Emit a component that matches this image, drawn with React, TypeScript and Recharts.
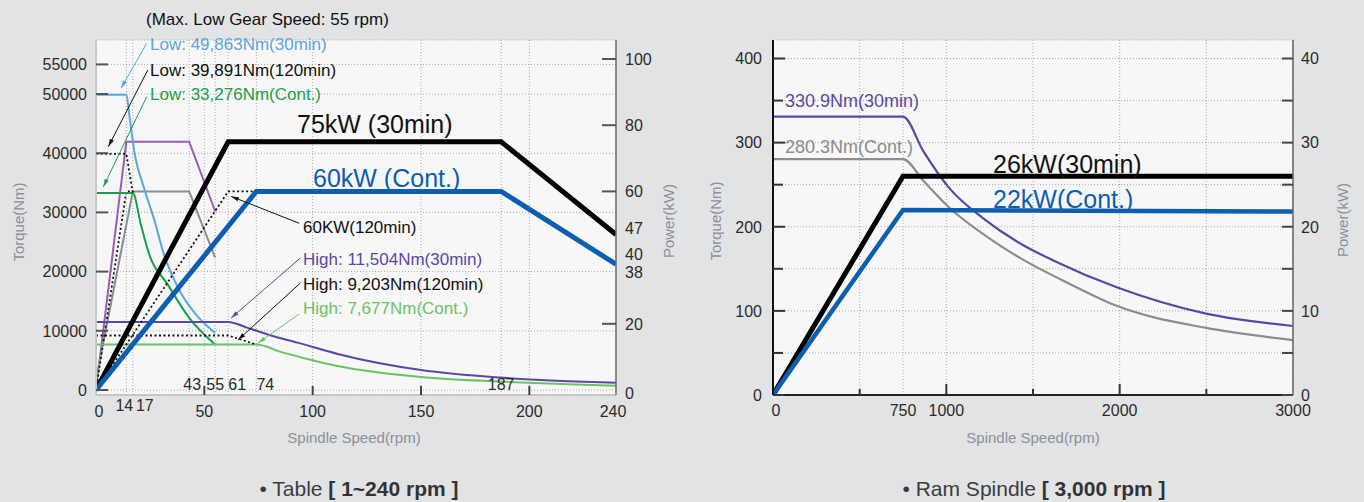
import React from 'react'
import { CartesianGrid, ComposedChart, Line, ReferenceLine, XAxis, YAxis } from 'recharts'

const FONT = '"Liberation Sans", Arial, Helvetica, sans-serif'

// Table chart (left) — [rpm, Nm] / [rpm, kW]
const tableLow30Nm = [[0, 49863], [14, 49863], [15.7, 45500], [17.9, 39800], [22.1, 34200], [27.1, 28500], [31, 23300], [39.2, 16400], [47, 12400], [55, 9650]]
const tableLow120Nm = [[0, 39891], [14, 39891], [17, 33276]]
const tableLowContNm = [[0, 33276], [17, 33276], [20.7, 27950], [24.2, 23300], [33.2, 17760], [43, 12200], [55, 7677]]
const tableHigh30Nm = [[0, 11504], [61, 11504], [70, 10500], [80, 9300], [93, 8000], [112, 6050], [150, 3380], [186, 2110], [218, 1490], [240, 1230]]
const tableHigh120Nm = [[0, 9203], [61, 9203], [74, 7677]]
const tableHighContNm = [[0, 7677], [74, 7677], [86, 6350], [98, 5200], [112, 4000], [150, 2200], [186, 1430], [218, 970], [240, 720]]
const tableLow30kW = [[0, 0], [14, 75], [43, 75], [55, 54]]
const tableLowContkW = [[0, 3], [17, 60], [43, 60], [55, 40]]
const tableLow120kW = [[0, 0], [14, 60], [17, 60]]
const table120kW = [[0, 0], [61, 60], [74, 60]]
const table30kW = [[0, 0], [61, 75], [187, 75], [240, 47]]
const tableContkW = [[0, 0], [74, 60], [187, 60], [240, 38]]

const tableSpeedTicks = [0, 14, 17, 43, 50, 55, 61, 74, 100, 150, 187, 200, 240]
const tableTorqueTicks = [0, 10000, 20000, 30000, 40000, 50000, 55000]
const tablePowerTicks = [0, 20, 38, 40, 47, 60, 80, 100]

// Ram spindle chart (right)
const ram30Nm = [[0, 330.9], [750, 330.9], [867, 290], [1021, 245], [1213, 210], [1444, 178], [1617, 160], [1983, 128], [2492, 97], [3000, 82]]
const ramContNm = [[0, 280.3], [750, 280.3], [870, 254], [1021, 222], [1250, 186], [1450, 160], [1713, 132], [1983, 106], [2492, 80], [3000, 65.3]]
const ram30kW = [[0, 0], [750, 26], [3000, 26]]
const ramContkW = [[0, 0], [750, 22], [3000, 21.8]]

const ramSpeedTicks = [0, 500, 750, 1000, 1500, 2000, 2500, 3000]
const ramTorqueTicks = [0, 50, 100, 150, 200, 250, 300, 350, 400]
const ramPowerTicks = [0, 5, 10, 15, 20, 25, 30, 35, 40]

const pts = (a: number[][]) => a.map(([x, y]) => ({ x, y }))

const C = {
  lowBlue: '#5aa6e0',
  lowGreen: '#17a24a',
  lowPurple: '#9b5cb4',
  gray: '#8c8c8c',
  hiPurple: '#5a47a7',
  hiGreen: '#6cc264',
  blue: '#0d5eae',
  axisText: '#8b909a',
}

const TICK_FS = 16

// label nudges for crowded ticks
const speedBelow = [0, 14, 17, 50, 100, 150, 200, 240]
const speedMarks = [50, 100, 150, 200]
const speedDx: Record<number, number> = { 0: 3, 14: -2, 17: 12, 240: -3, 43: 3, 61: 9, 74: 9 }
const powerDy: Record<number, number> = { 0: 3, 38: 8, 40: -3, 47: -6 }

const TableSpeedTick = (p: any) => {
  const { x, y, payload } = p
  const v = payload.value
  const below = speedBelow.includes(v)
  const cy = below ? (v === 14 || v === 17 ? y + 10 : y + 16) : y - 11
  return (
    <g>
      {speedMarks.includes(v) && <line x1={x} y1={y} x2={x} y2={y - 9} stroke="#444" strokeWidth={2} />}
      <text x={x + (speedDx[v] ?? 0)} y={cy} dy="0.36em" textAnchor="middle" fontSize={TICK_FS} fill="#2b2b2b" fontFamily={FONT}>
        {v}
      </text>
    </g>
  )
}

const TableTorqueTick = (p: any) => {
  const { x, y, payload } = p
  return (
    <g>
      <line x1={x} y1={y} x2={x + 12} y2={y} stroke="#555" strokeWidth={2} />
      <text x={x - 9} y={y} dy="0.36em" textAnchor="end" fontSize={TICK_FS} fill="#2b2b2b" fontFamily={FONT}>
        {payload.value}
      </text>
    </g>
  )
}

const TablePowerTick = (p: any) => {
  const { x, y, payload } = p
  const v = payload.value
  return (
    <g>
      {[20, 60, 80, 100].includes(v) && <line x1={x} y1={y} x2={x - 14} y2={y} stroke="#555" strokeWidth={2} />}
      <text x={x + 9} y={y + (powerDy[v] ?? 0)} dy="0.36em" textAnchor="start" fontSize={TICK_FS} fill="#2b2b2b" fontFamily={FONT}>
        {v}
      </text>
    </g>
  )
}

const RamSpeedTick = (p: any) => {
  const { x, y, payload } = p
  const v = payload.value
  const len = v === 1000 || v === 2000 ? 11 : v === 500 || v === 1500 || v === 2500 ? 6 : 0
  return (
    <g>
      {len > 0 && <line x1={x} y1={y} x2={x} y2={y - len} stroke="#333" strokeWidth={2} />}
      {v !== 500 && v !== 1500 && v !== 2500 && (
        <text x={x + (v === 0 ? 3 : 0)} y={y + 15} dy="0.36em" textAnchor="middle" fontSize={TICK_FS} fill="#2b2b2b" fontFamily={FONT}>
          {v}
        </text>
      )}
    </g>
  )
}

const RamTorqueTick = (p: any) => {
  const { x, y, payload } = p
  const major = payload.value % 100 === 0
  return (
    <g>
      <line x1={x} y1={y} x2={x + (major ? 12 : 10)} y2={y} stroke="#333" strokeWidth={2} />
      {major && (
        <text x={x - 11} y={y} dy="0.36em" textAnchor="end" fontSize={TICK_FS} fill="#2b2b2b" fontFamily={FONT}>
          {payload.value}
        </text>
      )}
    </g>
  )
}

const RamPowerTick = (p: any) => {
  const { x, y, payload } = p
  const major = payload.value % 10 === 0
  return (
    <g>
      <line x1={x} y1={y} x2={x - 11} y2={y} stroke="#444" strokeWidth={2} />
      {major && (
        <text x={x + 8} y={y} dy="0.36em" textAnchor="start" fontSize={TICK_FS} fill="#2b2b2b" fontFamily={FONT}>
          {payload.value}
        </text>
      )}
    </g>
  )
}

const arrow = (color: string) => (p: any) => {
  const { x1, y1, x2, y2 } = p
  const a = Math.atan2(y2 - y1, x2 - x1)
  const L = 8
  const w = 0.28
  const d = `M${x2},${y2} L${x2 - L * Math.cos(a - w)},${y2 - L * Math.sin(a - w)} L${x2 - L * Math.cos(a + w)},${y2 - L * Math.sin(a + w)} Z`
  return (
    <g>
      <line x1={x1} y1={y1} x2={x2} y2={y2} stroke={color} strokeWidth={1} />
      <path d={d} fill={color} stroke="none" />
    </g>
  )
}

// arrows on the table chart, in [rpm, Nm]
const tableArrows = [
  { from: [23.4, 58560], to: [11.6, 51000], color: C.lowBlue },
  { from: [23.9, 54050], to: [5.7, 41100], color: '#111' },
  { from: [23.4, 49540], to: [3.4, 34340], color: C.lowGreen },
  { from: [93.8, 28160], to: [62.4, 32700], color: '#111' },
  { from: [94.2, 22250], to: [62.4, 12180], color: C.hiPurple },
  { from: [94.2, 18020], to: [65.5, 8450], color: '#111' },
  { from: [93.8, 12840], to: [74.8, 7940], color: C.hiGreen },
]

const notes = [
  { t: '(Max. Low Gear Speed: 55 rpm)', x: 146, y: 19, s: 17, c: '#111' },
  { t: 'Low: 49,863Nm(30min)', x: 150, y: 44, s: 17, c: C.lowBlue },
  { t: 'Low: 39,891Nm(120min)', x: 150, y: 69.5, s: 17, c: '#111' },
  { t: 'Low: 33,276Nm(Cont.)', x: 150, y: 94, s: 17, c: C.lowGreen },
  { t: '75kW (30min)', x: 297, y: 123.5, s: 25, c: '#111' },
  { t: '60kW (Cont.)', x: 313, y: 177.5, s: 25, c: C.blue },
  { t: '60KW(120min)', x: 303, y: 227, s: 17, c: '#111' },
  { t: 'High: 11,504Nm(30min)', x: 303, y: 259, s: 17, c: C.hiPurple },
  { t: 'High: 9,203Nm(120min)', x: 303, y: 284, s: 17, c: '#111' },
  { t: 'High: 7,677Nm(Cont.)', x: 303, y: 308, s: 17, c: C.hiGreen },
  { t: '330.9Nm(30min)', x: 785, y: 101, s: 18, c: C.hiPurple },
  { t: '280.3Nm(Cont.)', x: 785, y: 147, s: 18, c: C.gray },
  { t: '26kW(30min)', x: 993, y: 164, s: 25, c: '#111' },
  { t: '22kW(Cont.)', x: 993, y: 199, s: 25, c: C.blue },
]

const axisTitles = [
  { t: 'Torque(Nm)', x: 19, y: 222, r: true },
  { t: 'Power(kW)', x: 669, y: 221, r: true },
  { t: 'Torque(Nm)', x: 716, y: 221, r: true },
  { t: 'Power(kW)', x: 1343, y: 220, r: true },
  { t: 'Spindle Speed(rpm)', x: 354, y: 438, r: false },
  { t: 'Spindle Speed(rpm)', x: 1033, y: 438, r: false },
]

const thin = { dot: false, activeDot: false, isAnimationActive: false } as const

const TableChart = () => (
  <ComposedChart width={700} height={440} margin={{ top: 40, right: 0, bottom: 0, left: 0 }}>
    <CartesianGrid yAxisId="t" fill="#f7f7f7" stroke="#a9a9a9" strokeDasharray="1 2" />
    <XAxis
      type="number"
      dataKey="x"
      domain={[0, 240]}
      allowDataOverflow
      ticks={tableSpeedTicks}
      interval={0}
      height={45}
      tickLine={false}
      tickSize={0}
      tickMargin={0}
      axisLine={{ stroke: '#bdbdbd', strokeWidth: 1.5 }}
      tick={TableSpeedTick}
    />
    <YAxis
      yAxisId="t"
      type="number"
      domain={[-845, 59122]}
      allowDataOverflow
      ticks={tableTorqueTicks}
      interval={0}
      width={96}
      tickLine={false}
      tickSize={0}
      tickMargin={0}
      axisLine={{ stroke: '#c6c6c6', strokeWidth: 2 }}
      tick={TableTorqueTick}
    />
    <YAxis
      yAxisId="p"
      orientation="right"
      type="number"
      domain={[-1.51, 105.74]}
      allowDataOverflow
      ticks={tablePowerTicks}
      interval={0}
      width={84}
      tickLine={false}
      tickSize={0}
      tickMargin={0}
      axisLine={{ stroke: '#6e6e6e', strokeWidth: 1.5 }}
      tick={TablePowerTick}
    />
    <Line yAxisId="p" data={pts(tableLow30kW)} dataKey="y" type="linear" stroke={C.lowPurple} strokeWidth={2} {...thin} />
    <Line yAxisId="p" data={pts(tableLowContkW)} dataKey="y" type="linear" stroke={C.gray} strokeWidth={2} {...thin} />
    <Line yAxisId="p" data={pts(tableLow120kW)} dataKey="y" type="linear" stroke="#111" strokeWidth={1.8} strokeDasharray="2 2.5" {...thin} />
    <Line yAxisId="t" data={pts(tableLow30Nm)} dataKey="y" type="monotone" stroke={C.lowBlue} strokeWidth={2} {...thin} />
    <Line yAxisId="t" data={pts(tableLowContNm)} dataKey="y" type="monotone" stroke={C.lowGreen} strokeWidth={2} {...thin} />
    <Line yAxisId="t" data={pts(tableLow120Nm)} dataKey="y" type="linear" stroke="#111" strokeWidth={1.8} strokeDasharray="2 2.5" {...thin} />
    <Line yAxisId="t" data={pts(tableHighContNm)} dataKey="y" type="monotone" stroke={C.hiGreen} strokeWidth={2} {...thin} />
    <Line yAxisId="t" data={pts(tableHigh30Nm)} dataKey="y" type="monotone" stroke={C.hiPurple} strokeWidth={2} {...thin} />
    <Line yAxisId="t" data={pts(tableHigh120Nm)} dataKey="y" type="linear" stroke="#111" strokeWidth={1.8} strokeDasharray="2 2.5" {...thin} />
    <Line yAxisId="p" data={pts(table120kW)} dataKey="y" type="linear" stroke="#111" strokeWidth={1.8} strokeDasharray="2 2.5" {...thin} />
    <Line yAxisId="p" data={pts(table30kW)} dataKey="y" type="linear" stroke="#000" strokeWidth={5} {...thin} />
    <Line yAxisId="p" data={pts(tableContkW)} dataKey="y" type="linear" stroke={C.blue} strokeWidth={5} {...thin} />
    {tableArrows.map((a, i) => (
      <ReferenceLine
        key={i}
        yAxisId="t"
        ifOverflow="visible"
        segment={[{ x: a.from[0], y: a.from[1] }, { x: a.to[0], y: a.to[1] }]}
        shape={arrow(a.color)}
      />
    ))}
  </ComposedChart>
)

const RamChart = () => (
  <ComposedChart width={684} height={440} margin={{ top: 40, right: 0, bottom: 0, left: 0 }}>
    <CartesianGrid yAxisId="t" fill="#f7f7f7" stroke="#a9a9a9" strokeDasharray="1 2" />
    <XAxis
      type="number"
      dataKey="x"
      domain={[0, 3000]}
      allowDataOverflow
      ticks={ramSpeedTicks}
      interval={0}
      height={45}
      tickLine={false}
      tickSize={0}
      tickMargin={0}
      axisLine={{ stroke: '#222', strokeWidth: 2 }}
      tick={RamSpeedTick}
    />
    <YAxis
      yAxisId="t"
      type="number"
      domain={[0, 422]}
      allowDataOverflow
      ticks={ramTorqueTicks}
      interval={0}
      width={93}
      tickLine={false}
      tickSize={0}
      tickMargin={0}
      axisLine={{ stroke: '#111', strokeWidth: 2 }}
      tick={RamTorqueTick}
    />
    <YAxis
      yAxisId="p"
      orientation="right"
      type="number"
      domain={[0, 42.2]}
      allowDataOverflow
      ticks={ramPowerTicks}
      interval={0}
      width={71}
      tickLine={false}
      tickSize={0}
      tickMargin={0}
      axisLine={{ stroke: '#666', strokeWidth: 1.5 }}
      tick={RamPowerTick}
    />
    <Line yAxisId="t" data={pts(ram30Nm)} dataKey="y" type="monotone" stroke={C.hiPurple} strokeWidth={2.2} {...thin} />
    <Line yAxisId="t" data={pts(ramContNm)} dataKey="y" type="monotone" stroke={C.gray} strokeWidth={2.2} {...thin} />
    <Line yAxisId="p" data={pts(ram30kW)} dataKey="y" type="linear" stroke="#000" strokeWidth={5} {...thin} />
    <Line yAxisId="p" data={pts(ramContkW)} dataKey="y" type="linear" stroke={C.blue} strokeWidth={4.5} {...thin} />
  </ComposedChart>
)

export default function App() {
  return (
    <div style={{ position: 'absolute', left: 0, top: 0, width: 1364, height: 502, background: '#e2e3e5', overflow: 'hidden' }}>
      <div style={{ position: 'absolute', left: 0, top: 0 }}>
        <TableChart />
      </div>
      <div style={{ position: 'absolute', left: 680, top: 0 }}>
        <RamChart />
      </div>
      <svg width={1364} height={502} style={{ position: 'absolute', left: 0, top: 0, pointerEvents: 'none' }} fontFamily={FONT}>
        {notes.map((n, i) => (
          <text key={i} x={n.x} y={n.y + 0.36 * n.s} fontSize={n.s} fill={n.c}>
            {n.t}
          </text>
        ))}
        {axisTitles.map((a, i) => (
          <text
            key={'a' + i}
            x={a.x}
            y={a.y + 0.36 * 15}
            fontSize={15}
            fill={C.axisText}
            textAnchor="middle"
            transform={a.r ? `rotate(-90, ${a.x}, ${a.y})` : undefined}
          >
            {a.t}
          </text>
        ))}
        <text x={359} y={488 + 0.36 * 21} fontSize={21} fill="#3c3c3c" textAnchor="middle">
          • Table <tspan fontWeight="bold" fill="#333">[ 1~240 rpm ]</tspan>
        </text>
        <text x={1034} y={488 + 0.36 * 21} fontSize={21} fill="#3c3c3c" textAnchor="middle">
          • Ram Spindle <tspan fontWeight="bold" fill="#333">[ 3,000 rpm ]</tspan>
        </text>
      </svg>
    </div>
  )
}
